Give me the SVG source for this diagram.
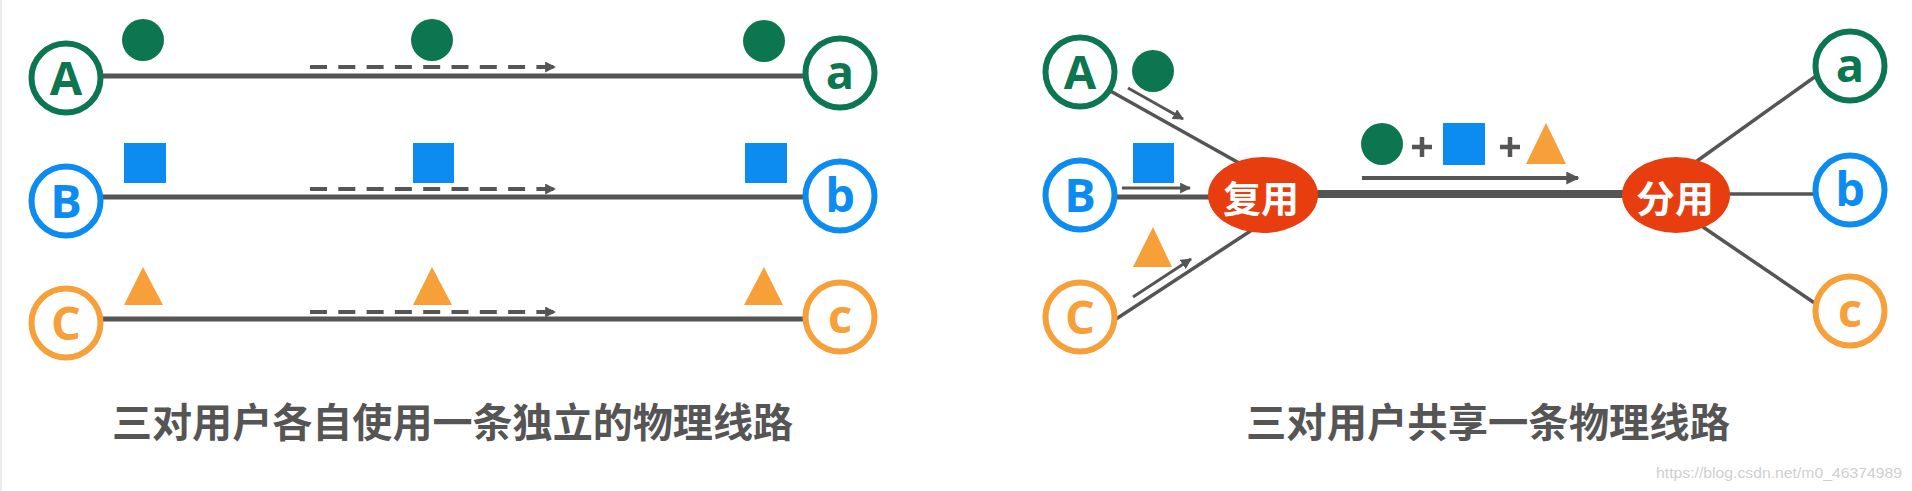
<svg xmlns="http://www.w3.org/2000/svg" width="1912" height="491" viewBox="0 0 1912 491">
<style>
.bg{fill:#ffffff}
.wire{stroke:#555555;stroke-width:5;fill:none}
.thin{stroke:#555555;stroke-width:3.5;fill:none}
.trunk{stroke:#555555;stroke-width:8;fill:none}
.dash{stroke:#555555;stroke-width:4;stroke-dasharray:17 11.3;fill:none}
.arr{stroke:#555555;stroke-width:3;fill:none}
.arrb{stroke:#555555;stroke-width:4;fill:none}
.plus{stroke:#555555;stroke-width:4.5;fill:none}
.ring{fill:#ffffff;stroke-width:6}
.g{stroke:#0b7650}
.b{stroke:#0c8cf0}
.o{stroke:#f7a039}
.gf{fill:#0b7650}
.bf{fill:#0c8cf0}
.of{fill:#f7a039}
.lbl{font-family:"Open Sans","Liberation Sans",sans-serif;font-weight:700;font-size:47px;text-anchor:middle}
.mux{fill:#e83d0f}
.muxt{font-family:"Noto Sans CJK SC",sans-serif;font-weight:700;font-size:37px;fill:#ffffff;text-anchor:middle;dominant-baseline:central}
.cap{font-family:"Noto Sans CJK SC",sans-serif;font-weight:700;font-size:40px;fill:#555555;dominant-baseline:central}
.wm{font-family:"Liberation Sans",sans-serif;font-size:15px;fill:#cfcfcf}
</style>
<defs>
<marker id="ah" viewBox="0 0 10 10" refX="9" refY="5" markerWidth="11" markerHeight="11" markerUnits="userSpaceOnUse" orient="auto"><path d="M0,0 L10,5 L0,10 z" fill="#555555"/></marker>
<marker id="ahb" viewBox="0 0 10 10" refX="9" refY="5" markerWidth="13" markerHeight="13" markerUnits="userSpaceOnUse" orient="auto"><path d="M0,0 L10,5 L0,10 z" fill="#555555"/></marker>
</defs>
<rect class="bg" x="0" y="0" width="1912" height="491"/>
<rect x="0" y="0" width="2" height="491" fill="#ececec"/>

<g id="connectors">
  <line class="wire" x1="100" y1="76" x2="804" y2="76"/>
  <line class="wire" x1="100" y1="197" x2="804" y2="197"/>
  <line class="wire" x1="100" y1="319" x2="804" y2="319"/>
  <line class="dash" x1="310" y1="67" x2="555" y2="67" marker-end="url(#ah)"/>
  <line class="dash" x1="310" y1="189" x2="555" y2="189" marker-end="url(#ah)"/>
  <line class="dash" x1="310" y1="312" x2="555" y2="312" marker-end="url(#ah)"/>
  <line class="thin" x1="1105" y1="88" x2="1248" y2="168"/>
  <line class="wire" x1="1115" y1="197" x2="1220" y2="197"/>
  <line class="thin" x1="1110" y1="323" x2="1255" y2="228"/>
  <line class="trunk" x1="1263" y1="194" x2="1676" y2="194"/>
  <line class="thin" x1="1690" y1="166" x2="1816" y2="76"/>
  <line class="thin" x1="1715" y1="194" x2="1814" y2="194"/>
  <line class="thin" x1="1700" y1="225" x2="1816" y2="304"/>
  <line class="arr" x1="1128" y1="88" x2="1183" y2="119" marker-end="url(#ah)"/>
  <line class="arr" x1="1122" y1="188" x2="1190" y2="188" marker-end="url(#ah)"/>
  <line class="arr" x1="1133" y1="297" x2="1191" y2="259" marker-end="url(#ah)"/>
  <line class="arrb" x1="1362" y1="178" x2="1578" y2="178" marker-end="url(#ahb)"/>
</g>

<g id="signals-left">
  <circle class="gf" cx="143" cy="40" r="21"/>
  <circle class="gf" cx="432" cy="40" r="21"/>
  <circle class="gf" cx="764" cy="41" r="21"/>
  <rect class="bf" x="124" y="143" width="42" height="40"/>
  <rect class="bf" x="413" y="143" width="41" height="40"/>
  <rect class="bf" x="745" y="143" width="42" height="40"/>
  <polygon class="of" points="143,267 124,305 163,305"/>
  <polygon class="of" points="432,267 413,305 452,305"/>
  <polygon class="of" points="764,267 744,305 783,305"/>
</g>

<g id="signals-right">
  <circle class="gf" cx="1153" cy="71" r="21"/>
  <rect class="bf" x="1133" y="143" width="41" height="40"/>
  <polygon class="of" points="1153,227 1133,267 1172,267"/>
  <circle class="gf" cx="1382" cy="144" r="21"/>
  <path class="plus" d="M1412,147 H1432 M1422,137 V157"/>
  <rect class="bf" x="1443" y="123" width="42" height="42"/>
  <path class="plus" d="M1500,147 H1520 M1510,137 V157"/>
  <polygon class="of" points="1546,123 1526,164 1566,164"/>
</g>

<g id="L-A"><circle class="ring g" cx="66" cy="78" r="34.5"/><text class="lbl gf" x="66" y="95">A</text></g>
<g id="L-B"><circle class="ring b" cx="66" cy="201" r="34.5"/><text class="lbl bf" x="66" y="218">B</text></g>
<g id="L-C"><circle class="ring o" cx="66" cy="323" r="34.5"/><text class="lbl of" x="66" y="340">C</text></g>
<g id="L-a"><circle class="ring g" cx="840" cy="73" r="34.5"/><text class="lbl gf" x="840" y="89">a</text></g>
<g id="L-b"><circle class="ring b" cx="840" cy="196" r="34.5"/><text class="lbl bf" x="840" y="212">b</text></g>
<g id="L-c"><circle class="ring o" cx="840" cy="317" r="34.5"/><text class="lbl of" x="840" y="333">c</text></g>

<g id="R-A"><circle class="ring g" cx="1080" cy="72" r="34.5"/><text class="lbl gf" x="1080" y="89">A</text></g>
<g id="R-B"><circle class="ring b" cx="1080" cy="195" r="34.5"/><text class="lbl bf" x="1080" y="212">B</text></g>
<g id="R-C"><circle class="ring o" cx="1080" cy="317" r="34.5"/><text class="lbl of" x="1080" y="334">C</text></g>
<g id="R-a"><circle class="ring g" cx="1850" cy="66" r="34.5"/><text class="lbl gf" x="1850" y="82">a</text></g>
<g id="R-b"><circle class="ring b" cx="1850" cy="190" r="34.5"/><text class="lbl bf" x="1850" y="206">b</text></g>
<g id="R-c"><circle class="ring o" cx="1850" cy="311" r="34.5"/><text class="lbl of" x="1850" y="327">c</text></g>

<g id="mux"><ellipse class="mux" cx="1263" cy="195" rx="55" ry="38"/><text class="muxt" x="1261" y="197" textLength="76" lengthAdjust="spacingAndGlyphs">复用</text></g>
<g id="demux"><ellipse class="mux" cx="1676" cy="195" rx="54" ry="38"/><text class="muxt" x="1675" y="197" textLength="78" lengthAdjust="spacingAndGlyphs">分用</text></g>

<g id="captions">
  <text class="cap" x="112" y="420" textLength="681" lengthAdjust="spacingAndGlyphs">三对用户各自使用一条独立的物理线路</text>
  <text class="cap" x="1246" y="420" textLength="484" lengthAdjust="spacingAndGlyphs">三对用户共享一条物理线路</text>
  <text class="wm" x="1656" y="478" textLength="246" lengthAdjust="spacingAndGlyphs">https://blog.csdn.net/m0_46374989</text>
</g>
</svg>
